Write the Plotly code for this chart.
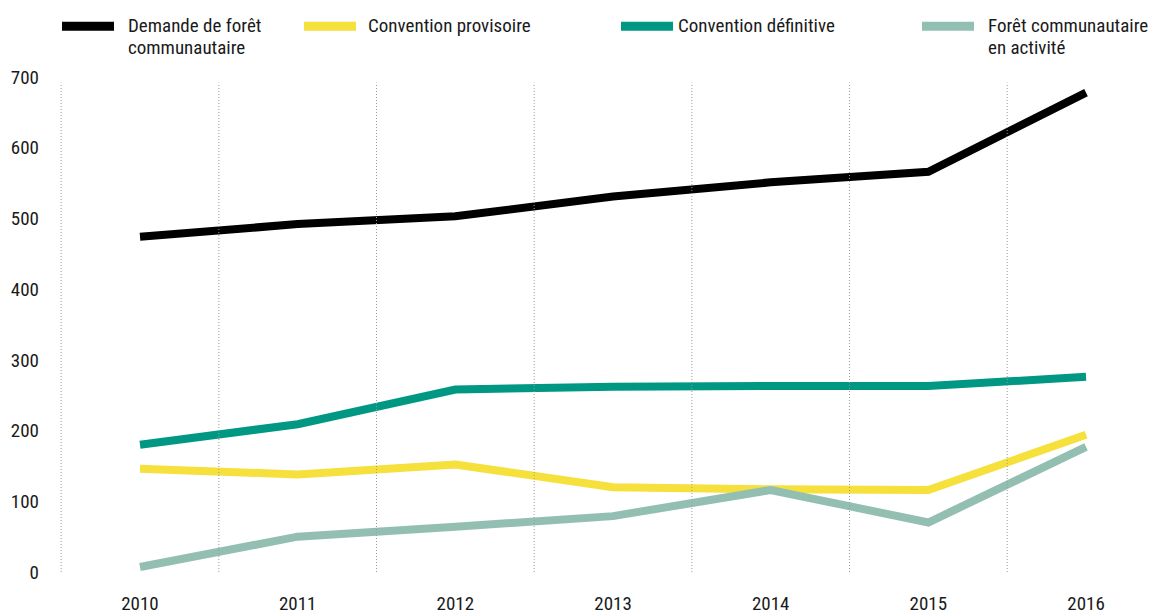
import plotly.graph_objects as go

# Années et séries (nombre de forêts communautaires)
years = [2010, 2011, 2012, 2013, 2014, 2015, 2016]
demande = [474, 492, 503, 531, 551, 566, 678]
provisoire = [146, 138, 152, 120, 117, 116, 194]
definitive = [180, 209, 258, 262, 263, 263, 276]
activite = [7, 50, 64, 79, 116, 70, 177]

series_names = [
    ["Demande de forêt", "communautaire"],
    ["Convention provisoire"],
    ["Convention définitive"],
    ["Forêt communautaire", "en activité"],
]
series_values = [demande, provisoire, definitive, activite]
colors = ["#000000", "#f5e03c", "#009882", "#93bfb3"]

y_ticks = [0, 100, 200, 300, 400, 500, 600, 700]

FONT = "Roboto Condensed, Liberation Sans Narrow, Roboto, sans-serif"
FONT_SIZE = 19
TEXT_COLOR = "#1a1a1a"
W, H = 1154, 615
M_L, M_R, M_T, M_B = 58, 0, 77, 36
X_RANGE = [2009.48, 2016.431]
Y_RANGE = [0, 700]

fig = go.Figure()
for names, vals, col in zip(series_names, series_values, colors):
    fig.add_trace(go.Scatter(
        x=years, y=vals, mode="lines", name=" ".join(names),
        line=dict(color=col, width=8), showlegend=False,
        hoverinfo="x+y",
    ))

# Séparateurs verticaux pointillés entre les années
shapes = []
for yr in years:
    shapes.append(dict(
        type="line", xref="x", yref="y",
        x0=yr - 0.5, x1=yr - 0.5, y0=0, y1=692,
        line=dict(color="#9a9a9a", width=1, dash="1px,2px"),
    ))

# Légende dessinée à la main en haut du graphique
plot_w = W - M_L - M_R
plot_h = H - M_T - M_B


def px_x(px):
    return (px - M_L) / plot_w


def px_y(py):
    return (H - M_B - py) / plot_h


legend_swatch_x = [62, 304, 621, 922]
legend_text_x = [126, 366, 676, 986]
annotations = []
for sx, tx, names, col in zip(legend_swatch_x, legend_text_x, series_names, colors):
    shapes.append(dict(
        type="rect", xref="paper", yref="paper",
        x0=px_x(sx), x1=px_x(sx + 52), y0=px_y(21), y1=px_y(30),
        fillcolor=col, line=dict(width=0),
    ))
    for i, line_txt in enumerate(names):
        annotations.append(dict(
            xref="paper", yref="paper", x=px_x(tx), y=px_y(25 + 22 * i),
            xanchor="left", yanchor="middle", showarrow=False,
            text=line_txt, font=dict(family=FONT, size=FONT_SIZE, color=TEXT_COLOR),
        ))

fig.update_layout(
    width=W, height=H,
    margin=dict(l=M_L, r=M_R, t=M_T, b=M_B, pad=0),
    paper_bgcolor="white", plot_bgcolor="white",
    font=dict(family=FONT, size=FONT_SIZE, color=TEXT_COLOR),
    shapes=shapes, annotations=annotations,
    xaxis=dict(
        range=X_RANGE, tickvals=years, ticktext=[str(y) for y in years],
        showgrid=False, zeroline=False, showline=False, ticks="",
        ticklabelstandoff=18, fixedrange=True,
    ),
    yaxis=dict(
        range=Y_RANGE, tickvals=y_ticks, showgrid=False, zeroline=False,
        showline=False, ticks="", ticklabelstandoff=18, fixedrange=True,
    ),
)

fig.write_html("out.html")
